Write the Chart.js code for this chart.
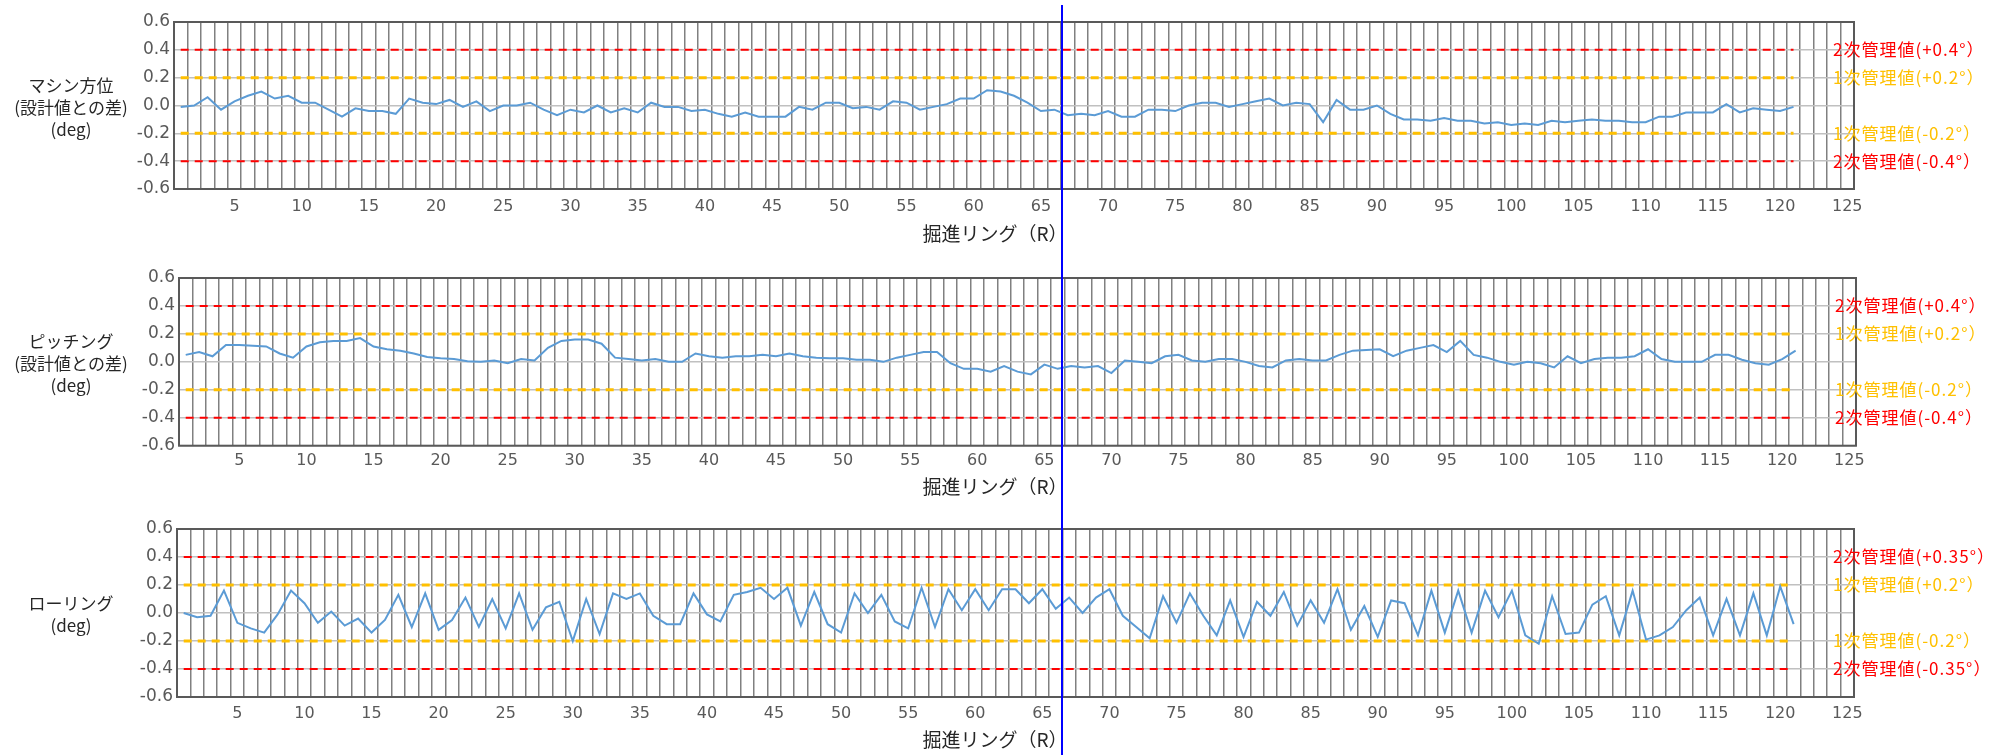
<!DOCTYPE html>
<html>
<head>
<meta charset="utf-8">
<script src="https://cdn.jsdelivr.net/npm/chart.js"></script>
<style>
html, body { margin: 0; padding: 0; background: #fff; }
#wrap { position: relative; width: 2002px; height: 755px; overflow: hidden; }
#wrap canvas { position: absolute; left: 0; display: block; }
#marker { position: absolute; top: 5px; width: 2px; height: 750px; background: #0000ff; }
</style>
</head>
<body>
<div id="wrap">
  <canvas id="c1" width="2002" height="252" style="top:0px"></canvas>
  <canvas id="c2" width="2002" height="252" style="top:252px"></canvas>
  <canvas id="c3" width="2002" height="251" style="top:504px"></canvas>
  <div id="marker"></div>
</div>
<script>
// rings 1..125 on the category axis
const rings = Array.from({ length: 125 }, (_, i) => i + 1);

// machine azimuth, diff from design (deg)
const azimuth = [
  -0.01, 0.00, 0.06, -0.03, 0.03, 0.07, 0.10, 0.05, 0.07, 0.02,
  0.02, -0.03, -0.08, -0.02, -0.04, -0.04, -0.06, 0.05, 0.02, 0.01,
  0.04, -0.01, 0.03, -0.04, 0.00, 0.00, 0.02, -0.03, -0.07, -0.03,
  -0.05, 0.00, -0.05, -0.02, -0.05, 0.02, -0.01, -0.01, -0.04, -0.03,
  -0.06, -0.08, -0.05, -0.08, -0.08, -0.08, -0.01, -0.03, 0.02, 0.02,
  -0.02, -0.01, -0.03, 0.03, 0.02, -0.03, -0.01, 0.01, 0.05, 0.05,
  0.11, 0.10, 0.07, 0.02, -0.04, -0.03, -0.07, -0.06, -0.07, -0.04,
  -0.08, -0.08, -0.03, -0.03, -0.04, 0.00, 0.02, 0.02, -0.01, 0.01,
  0.03, 0.05, 0.00, 0.02, 0.01, -0.12, 0.04, -0.03, -0.03, 0.00,
  -0.06, -0.10, -0.10, -0.11, -0.09, -0.11, -0.11, -0.13, -0.12, -0.14,
  -0.13, -0.14, -0.11, -0.12, -0.11, -0.10, -0.11, -0.11, -0.12, -0.12,
  -0.08, -0.08, -0.05, -0.05, -0.05, 0.01, -0.05, -0.02, -0.03, -0.04,
  -0.01
];

// pitching, diff from design (deg)
const pitching = [
  0.05, 0.07, 0.04, 0.12, 0.12, 0.115, 0.11, 0.06, 0.03, 0.11,
  0.14, 0.15, 0.15, 0.17, 0.11, 0.09, 0.08, 0.06, 0.035, 0.025,
  0.02, 0.005, 0.00, 0.01, -0.01, 0.02, 0.01, 0.10, 0.15, 0.16,
  0.16, 0.13, 0.03, 0.02, 0.01, 0.02, 0.00, 0.00, 0.06, 0.04,
  0.03, 0.04, 0.04, 0.05, 0.04, 0.06, 0.04, 0.03, 0.025, 0.025,
  0.015, 0.015, 0.00, 0.03, 0.05, 0.07, 0.07, -0.01, -0.05, -0.05,
  -0.07, -0.03, -0.07, -0.09, -0.02, -0.05, -0.03, -0.04, -0.03, -0.08,
  0.01, 0.00, -0.01, 0.04, 0.05, 0.01, 0.00, 0.02, 0.02, 0.00,
  -0.03, -0.04, 0.01, 0.02, 0.01, 0.01, 0.05, 0.08, 0.085, 0.09,
  0.04, 0.08, 0.10, 0.12, 0.07, 0.15, 0.05, 0.03, 0.00, -0.02,
  0.00, -0.01, -0.04, 0.04, -0.01, 0.02, 0.03, 0.03, 0.04, 0.09,
  0.02, 0.00, 0.00, 0.00, 0.05, 0.05, 0.015, -0.01, -0.02, 0.02,
  0.08
];

// rolling (deg)
const rolling = [
  0.00, -0.03, -0.02, 0.16, -0.07, -0.11, -0.14, -0.01, 0.16, 0.07,
  -0.07, 0.01, -0.09, -0.04, -0.14, -0.05, 0.13, -0.10, 0.14, -0.12,
  -0.05, 0.11, -0.10, 0.10, -0.11, 0.14, -0.12, 0.04, 0.08, -0.20,
  0.10, -0.15, 0.14, 0.10, 0.14, -0.02, -0.08, -0.08, 0.14, -0.01,
  -0.06, 0.13, 0.15, 0.18, 0.10, 0.18, -0.09, 0.15, -0.08, -0.14,
  0.14, 0.00, 0.13, -0.06, -0.11, 0.18, -0.10, 0.17, 0.02, 0.17,
  0.02, 0.17, 0.17, 0.07, 0.17, 0.03, 0.11, 0.00, 0.11, 0.17,
  -0.02, -0.10, -0.18, 0.12, -0.07, 0.14, -0.02, -0.16, 0.09, -0.17,
  0.08, -0.02, 0.15, -0.09, 0.09, -0.07, 0.17, -0.12, 0.05, -0.17,
  0.09, 0.07, -0.16, 0.16, -0.14, 0.16, -0.14, 0.16, -0.03, 0.16,
  -0.16, -0.22, 0.12, -0.15, -0.14, 0.06, 0.12, -0.16, 0.16, -0.19,
  -0.16, -0.10, 0.02, 0.11, -0.16, 0.10, -0.16, 0.14, -0.16, 0.19,
  -0.08
];

// control limits drawn as dashed lines
const limitValues = [0.4, 0.2, -0.2, -0.4];
const limitColors = ['#ff0000', '#ffc000', '#ffc000', '#ff0000'];
const limitWidths = [2, 3, 3, 2];
const limitLabels = ['2次管理値(+0.4°）', '1次管理値(+0.2°）', '1次管理値(-0.2°）', '2次管理値(-0.4°）'];
const limitLabelsRoll = ['2次管理値(+0.35°）', '1次管理値(+0.2°）', '1次管理値(-0.2°）', '2次管理値(-0.35°）'];

const xTitle = '掘進リング（R）';
const markerAfterRing = 66;

const CJK = '"Noto Sans CJK JP", "Noto Sans", sans-serif';

// limit lines, frame and the extra texts
const overlay = {
  id: 'overlay',
  beforeDatasetsDraw(chart, args, opts) {
    const { ctx, scales: { x, y } } = chart;
    const x0 = x.getPixelForValue(0);
    const x1 = x.getPixelForValue(opts.lastIndex);
    ctx.save();
    ctx.setLineDash([8, 6]);
    limitValues.forEach((v, i) => {
      const py = y.getPixelForValue(v);
      ctx.strokeStyle = limitColors[i];
      ctx.lineWidth = limitWidths[i];
      ctx.beginPath();
      ctx.moveTo(x0, py);
      ctx.lineTo(x1, py);
      ctx.stroke();
    });
    ctx.restore();
  },
  afterDraw(chart, args, opts) {
    const { ctx, chartArea: a, scales: { y } } = chart;
    ctx.save();
    ctx.strokeStyle = '#595959';
    ctx.lineWidth = 2;
    ctx.strokeRect(a.left, a.top, a.right - a.left, a.bottom - a.top);

    ctx.font = '17px ' + CJK;
    ctx.letterSpacing = '1px';
    ctx.textAlign = 'left';
    ctx.textBaseline = 'middle';
    opts.labels.forEach((t, i) => {
      ctx.fillStyle = limitColors[i];
      ctx.fillText(t, a.right - 21, y.getPixelForValue(limitValues[i]));
    });
    ctx.letterSpacing = '0px';

    ctx.fillStyle = '#262626';
    ctx.textAlign = 'center';
    ctx.font = '17px ' + CJK;
    const mid = (a.top + a.bottom) / 2 + 2;
    const n = opts.yTitle.length;
    opts.yTitle.forEach((t, i) => {
      ctx.fillText(t, 71, mid + (i - (n - 1) / 2) * 22);
    });

    ctx.font = '19px ' + CJK;
    ctx.fillText(xTitle, 995, a.bottom + opts.titleOffset);
    ctx.restore();
  }
};

function build(id, series, o) {
  return new Chart(document.getElementById(id), {
    type: 'line',
    data: {
      labels: rings,
      datasets: [{
        data: series,
        borderColor: '#5b9bd5',
        borderWidth: 2,
        pointRadius: 0,
        tension: 0,
        fill: false
      }]
    },
    options: {
      responsive: false,
      animation: false,
      devicePixelRatio: 1,
      layout: { padding: { top: o.top, right: o.right, left: 0, bottom: 0 } },
      plugins: {
        legend: { display: false },
        tooltip: { enabled: false },
        overlay: { lastIndex: series.length - 1, labels: o.labels, yTitle: o.yTitle, titleOffset: o.titleOffset }
      },
      scales: {
        x: {
          type: 'category',
          offset: true,
          afterFit(s) { s.height = o.xHeight; },
          grid: { offset: true, color: '#808080', lineWidth: 1.5, drawTicks: false },
          border: { display: false },
          ticks: {
            autoSkip: false,
            maxRotation: 0,
            minRotation: 0,
            padding: o.tickPad,
            color: '#595959',
            font: { family: '"DejaVu Sans", sans-serif', size: 16 },
            callback(value, index) {
              const r = rings[index];
              return r % 5 === 0 ? String(r) : '';
            }
          }
        },
        y: {
          min: -0.6,
          max: 0.6,
          afterFit(s) { s.width = o.left; },
          grid: { color: '#c0c0c0', lineWidth: 1.5, drawTicks: false },
          border: { display: false },
          ticks: {
            stepSize: 0.2,
            padding: 4,
            color: '#595959',
            font: { family: '"DejaVu Sans", sans-serif', size: 17 },
            callback: v => (Math.abs(v) < 1e-9 ? 0 : v).toFixed(1)
          }
        }
      }
    },
    plugins: [overlay]
  });
}

build('c1', azimuth, {
  top: 22, right: 148, left: 174, xHeight: 63, tickPad: 8, titleOffset: 45,
  labels: limitLabels, yTitle: ['マシン方位', '(設計値との差)', '(deg)']
});
build('c2', pitching, {
  top: 26, right: 146, left: 179, xHeight: 58.3, tickPad: 6, titleOffset: 41,
  labels: limitLabels, yTitle: ['ピッチング', '(設計値との差)', '(deg)']
});
const chart3 = build('c3', rolling, {
  top: 25, right: 148, left: 177, xHeight: 58, tickPad: 7, titleOffset: 43,
  labels: limitLabelsRoll, yTitle: ['ローリング', '(deg)']
});

// vertical marker between ring 66 and 67, taken from the bottom chart's scale
const sx = chart3.scales.x;
const idx = rings.indexOf(markerAfterRing);
const mx = (sx.getPixelForValue(idx) + sx.getPixelForValue(idx + 1)) / 2;
document.getElementById('marker').style.left = (mx - 1) + 'px';
</script>
</body>
</html>
